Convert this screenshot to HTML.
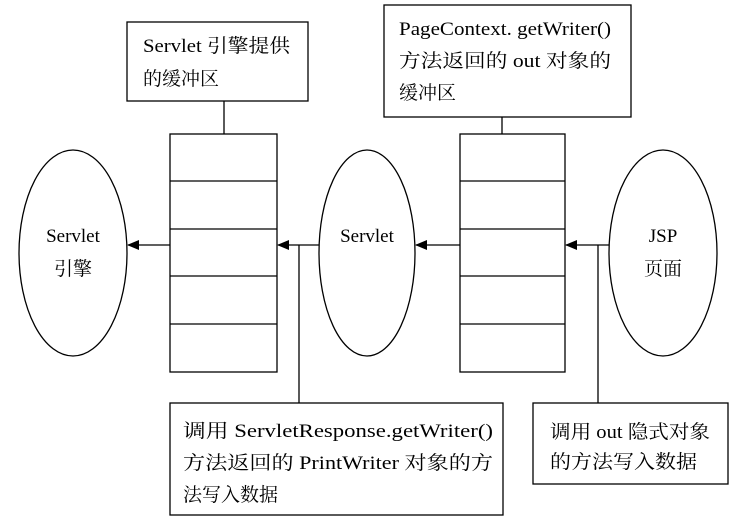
<!DOCTYPE html>
<html><head><meta charset="utf-8"><style>
html,body{margin:0;padding:0;background:#fff;}
svg text{font-family:"Liberation Serif","Noto Serif CJK SC","Noto Sans CJK SC",serif;font-size:19px;fill:#000;}
</style></head><body>
<svg width="744" height="524" viewBox="0 0 744 524" xmlns="http://www.w3.org/2000/svg">
<defs><marker id="a" markerWidth="12" markerHeight="10" refX="11" refY="5" orient="auto" markerUnits="userSpaceOnUse"><path d="M0,0 L12,5 L0,10 z" fill="#000"/></marker></defs>
<g fill="none" stroke="#000" stroke-width="1.3">
<rect x="127" y="22" width="181" height="79"/>
<line x1="224" y1="101" x2="224" y2="134"/>
<rect x="170" y="134" width="107" height="238"/>
<line x1="170" y1="181" x2="277" y2="181"/><line x1="170" y1="229" x2="277" y2="229"/><line x1="170" y1="276" x2="277" y2="276"/><line x1="170" y1="324" x2="277" y2="324"/>
<rect x="384" y="5" width="247" height="112"/>
<line x1="502" y1="117" x2="502" y2="134"/>
<rect x="460" y="134" width="105" height="238"/>
<line x1="460" y1="181" x2="565" y2="181"/><line x1="460" y1="229" x2="565" y2="229"/><line x1="460" y1="276" x2="565" y2="276"/><line x1="460" y1="324" x2="565" y2="324"/>
<ellipse cx="73" cy="253" rx="54" ry="103"/>
<ellipse cx="367" cy="253" rx="48" ry="103"/>
<ellipse cx="663" cy="253" rx="54" ry="103"/>
<line x1="170" y1="245" x2="128" y2="245" marker-end="url(#a)"/>
<line x1="319" y1="245" x2="278" y2="245" marker-end="url(#a)"/>
<line x1="460" y1="245" x2="416" y2="245" marker-end="url(#a)"/>
<line x1="609" y1="245" x2="566" y2="245" marker-end="url(#a)"/>
<line x1="299" y1="245" x2="299" y2="403"/>
<line x1="598" y1="245" x2="598" y2="403"/>
<rect x="170" y="403" width="333" height="112"/>
<rect x="533" y="403" width="195" height="81"/>
</g>
<text x="143" y="52" textLength="147" lengthAdjust="spacingAndGlyphs">Servlet 引擎提供</text>
<text x="143" y="85">的缓冲区</text>
<text x="399" y="35" textLength="212" lengthAdjust="spacingAndGlyphs">PageContext. getWriter()</text>
<text x="399" y="67" textLength="212" lengthAdjust="spacingAndGlyphs">方法返回的 out 对象的</text>
<text x="399" y="99">缓冲区</text>
<text x="73" y="242" text-anchor="middle">Servlet</text>
<text x="73" y="275" text-anchor="middle">引擎</text>
<text x="367" y="242" text-anchor="middle">Servlet</text>
<text x="663" y="242" text-anchor="middle">JSP</text>
<text x="663" y="275" text-anchor="middle">页面</text>
<text x="183" y="437" textLength="310" lengthAdjust="spacingAndGlyphs">调用  ServletResponse.getWriter()</text>
<text x="183" y="469" textLength="310" lengthAdjust="spacingAndGlyphs">方法返回的 PrintWriter 对象的方</text>
<text x="183" y="501">法写入数据</text>
<text x="550" y="438" textLength="160" lengthAdjust="spacingAndGlyphs">调用 out 隐式对象</text>
<text x="550" y="468" textLength="147" lengthAdjust="spacingAndGlyphs">的方法写入数据</text>
</svg>
</body></html>
